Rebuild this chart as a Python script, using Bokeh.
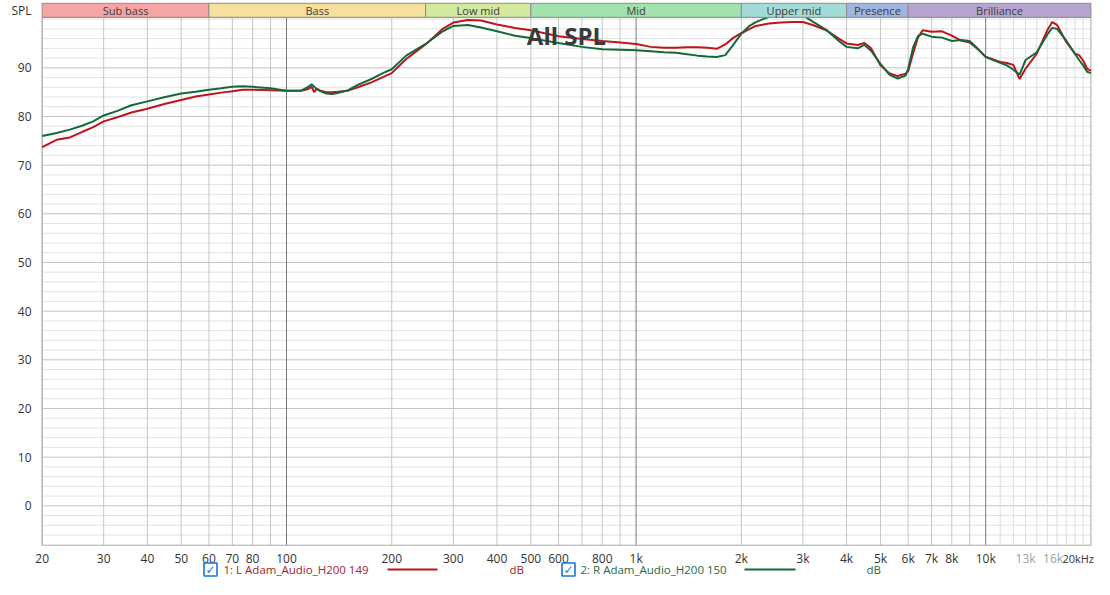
import math
from bokeh.plotting import figure
from bokeh.models import Range1d, FixedTicker, ColumnDataSource
from bokeh.core.properties import value
from bokeh.embed import file_html
from bokeh.resources import INLINE

# ---------------- data ----------------
freq_hz = [20, 22, 24, 26, 28, 30, 33, 36, 40, 45, 50, 55, 60, 65, 70, 75, 80, 90,
           100, 110, 115, 118, 120, 122, 125, 130, 135, 140, 150, 160, 175, 190,
           200, 220, 250, 280, 300, 330, 360, 400, 450, 500, 600, 700, 800, 900,
           1000, 1100, 1200, 1300, 1400, 1500, 1600, 1700, 1800, 1900, 2000, 2100,
           2200, 2400, 2600, 2800, 3000, 3200, 3500, 3800, 4000, 4300, 4500, 4700,
           5000, 5300, 5600, 5900, 6000, 6200, 6400, 6600, 7000, 7500, 8000, 8500,
           9000, 9500, 10000, 11000, 11500, 12000, 12500, 13000, 14000, 15000,
           15500, 16000, 17000, 18000, 18500, 19000, 19500, 20000]

left_db = [73.7, 75.2, 75.7, 76.8, 77.8, 79.0, 79.9, 80.8, 81.6, 82.6, 83.4, 84.1, 84.5,
           84.9, 85.2, 85.5, 85.5, 85.4,
           85.3, 85.3, 85.6, 86.1, 85.0, 85.7, 85.3, 85.0, 85.0, 85.1, 85.3, 86.0, 87.0, 88.2,
           88.9, 91.8, 94.8, 98.0, 99.3, 99.8, 99.7, 98.9, 98.2, 97.7, 96.5, 95.9, 95.5, 95.2,
           94.9, 94.3, 94.1, 94.1, 94.2, 94.2, 94.1, 93.9, 94.8, 96.2, 97.1, 97.9,
           98.6, 99.1, 99.3, 99.4, 99.4, 98.8, 97.7, 96.0, 95.0, 94.7, 95.1, 94.0,
           90.5, 88.9, 88.3, 88.8, 89.3, 93.0, 96.2, 97.7, 97.4, 97.5, 96.6, 95.6,
           95.2, 93.8, 92.3, 91.2, 91.0, 90.6, 87.7, 89.8, 92.9, 97.7,
           99.4, 98.8, 95.3, 92.9, 92.6, 91.5, 89.8, 89.4]

right_db = [76.0, 76.6, 77.3, 78.1, 79.0, 80.2, 81.2, 82.3, 83.1, 84.0, 84.7, 85.1, 85.5,
            85.8, 86.1, 86.2, 86.1, 85.8,
            85.3, 85.3, 86.0, 86.6, 86.1, 85.6, 85.2, 84.7, 84.6, 84.8, 85.4, 86.5, 87.7, 89.0,
            89.7, 92.5, 94.9, 97.5, 98.6, 98.8, 98.3, 97.5, 96.6, 96.1, 95.1, 94.3, 93.8, 93.7,
            93.6, 93.4, 93.2, 93.1, 92.8, 92.5, 92.3, 92.2, 92.6, 94.8, 97.0, 98.5,
            99.4, 100.5, 101.2, 101.5, 100.8, 99.5, 97.8, 95.5, 94.3, 94.0, 94.7, 93.5,
            90.8, 88.6, 87.8, 88.4, 89.8, 94.2, 96.5, 97.0, 96.4, 96.2, 95.5, 95.7,
            95.5, 93.9, 92.2, 91.0, 90.5, 89.6, 88.6, 91.6, 93.2, 96.8,
            98.2, 98.0, 95.6, 92.9, 91.6, 90.5, 89.2, 88.9]

band_names = ["Sub bass", "Bass", "Low mid", "Mid", "Upper mid", "Presence", "Brilliance"]
band_lo = [20, 60, 250, 500, 2000, 4000, 6000]
band_hi = [60, 250, 500, 2000, 4000, 6000, 20000]
band_colors = ["#f6a4a4", "#f7df9e", "#d3e99e", "#a2e2ac", "#a3dcd6", "#a2b5df", "#b7a4cf"]

x_tick_values = [20, 30, 40, 50, 60, 70, 80, 100, 200, 300, 400, 500, 600, 800,
                 1000, 2000, 3000, 4000, 5000, 6000, 7000, 8000, 10000]
x_tick_labels = ["20", "30", "40", "50", "60", "70", "80", "100", "200", "300", "400",
                 "500", "600", "800", "1k", "2k", "3k", "4k", "5k", "6k", "7k", "8k", "10k"]
x_faint_values = [13000, 16000]
x_faint_labels = ["13k", "16k"]
x_last_label = "20kHz"
y_tick_values = [0, 10, 20, 30, 40, 50, 60, 70, 80, 90]
y_tick_labels = ["0", "10", "20", "30", "40", "50", "60", "70", "80", "90"]
y_title = "SPL"

grid_x_regular = [20, 30, 40, 50, 60, 70, 80, 90, 200, 300, 400, 500, 600, 700, 800, 900,
                  2000, 3000, 4000, 5000, 6000, 7000, 8000, 9000]
grid_x_dark = [100, 1000, 10000]
grid_x_light = [11000, 12000, 13000, 14000, 15000, 16000, 17000, 18000, 19000]
grid_y_minor = [v for v in range(-6, 101, 2) if v % 10 != 0] + [100]
grid_y_major = [0, 10, 20, 30, 40, 50, 60, 70, 80, 90]

series_names = ["1: L Adam_Audio_H200 149", "2: R Adam_Audio_H200 150"]
series_colors = ["#c0141a", "#14693a"]
legend_text_colors = ["#a52226", "#1f6a3e"]

# ---------------- layout helpers (picture pixel -> data) ----------------
def fx(px):
    return 10 ** (2 + (px - 286.0) / 349.6)

def fy(py):
    return 90 - (py - 67.3) / 4.8667

FONT = "Open Sans"
W, H = 1094, 579
FL, FR = 30, 1094          # frame left / right in pixels
PLOT_BOTTOM = -8.1
PLOT_TOP = fy(16.8)
BAND_TOP = fy(2.8)

p = figure(width=W, height=H, x_axis_type="log",
           x_range=Range1d(fx(FL), fx(FR)), y_range=Range1d(fy(H), fy(0)),
           output_backend="svg", toolbar_location=None,
           min_border_left=FL, min_border_right=W - FR, min_border_top=0, min_border_bottom=0)
p.background_fill_color = "white"
p.border_fill_color = "white"
p.outline_line_color = None
p.xgrid.visible = False
p.ygrid.visible = False
p.xaxis.visible = False

# y axis (real axis, left)
ya = p.yaxis[0]
spl_tick = round(fy(9.8), 2)
ya.ticker = FixedTicker(ticks=y_tick_values + [spl_tick])
overrides = {v: s for v, s in zip(y_tick_values, y_tick_labels)}
overrides[spl_tick] = y_title
ya.major_label_overrides = overrides
ya.axis_line_color = None
ya.major_tick_line_color = None
ya.minor_tick_line_color = None
ya.major_label_text_font = FONT
ya.major_label_text_font_size = "12px"
ya.major_label_text_color = "#333333"
ya.major_label_standoff = FL - 37

# grid lines (limited to plot box)
def vgrid(xs, color):
    p.segment(x0=xs, y0=[PLOT_BOTTOM] * len(xs), x1=xs, y1=[PLOT_TOP] * len(xs),
              line_color=color, line_width=1)

def hgrid(ys, color):
    p.segment(x0=[20] * len(ys), y0=ys, x1=[20000] * len(ys), y1=ys,
              line_color=color, line_width=1)

hgrid(grid_y_minor, "#e3e3e3")
hgrid(grid_y_major, "#c3c3c3")
vgrid(grid_x_light, "#dcdcdc")
vgrid(grid_x_regular, "#c6c6c6")
vgrid(grid_x_dark, "#7c7c7c")

# plot box
p.quad(left=[20], right=[20000], bottom=[PLOT_BOTTOM], top=[PLOT_TOP],
       fill_color=None, line_color="#a8a8a8", line_width=1)

# curves
src = ColumnDataSource(dict(f=freq_hz, l=left_db, r=right_db))
p.line("f", "l", source=src, line_color=series_colors[0], line_width=2)
p.line("f", "r", source=src, line_color=series_colors[1], line_width=2)

# band strip
bsrc = ColumnDataSource(dict(lo=band_lo, hi=band_hi, c=band_colors, name=band_names,
                             mid=[math.sqrt(a * b) for a, b in zip(band_lo, band_hi)]))
p.quad(left="lo", right="hi", bottom=PLOT_TOP, top=BAND_TOP, fill_color="c",
       line_color="#8e8e8e", line_width=1, source=bsrc)
p.text(x="mid", y=fy(9.8), text="name", source=bsrc, text_align="center",
       text_baseline="middle", text_font=value(FONT), text_font_size="11px",
       text_color="#3c3c3c")

# x tick labels
XL_Y = fy(557.5)
p.text(x=x_tick_values, y=[XL_Y] * len(x_tick_values), text=x_tick_labels,
       text_align="center", text_baseline="middle", text_font=value(FONT),
       text_font_size="12px", text_color="#333333")
p.text(x=x_faint_values, y=[XL_Y] * len(x_faint_values), text=x_faint_labels,
       text_align="center", text_baseline="middle", text_font=value(FONT),
       text_font_size="12px", text_color="#a0a0a0", x_offset=[0, -4])
p.text(x=[fx(1093.5)], y=[XL_Y], text=[x_last_label], text_align="right",
       text_baseline="middle", text_font=value(FONT), text_font_size="11px",
       text_color="#333333")

# title in plot
p.text(x=[fx(566)], y=[fy(34.5)], text=["All SPL"], text_align="center",
       text_baseline="middle", text_font=value(FONT), text_font_size="24px",
       text_font_style="bold", text_color="#3a3a3a")

# legend row
LY = fy(569)
legend_pos = [(210, 223, 387, 437, 509), (568, 580, 744, 795, 866)]
for i, (cb, tx, l0, l1, db) in enumerate(legend_pos):
    p.scatter(x=[fx(cb)], y=[LY], marker="square", size=13, fill_color="white",
              line_color="#1a73d9", line_width=1.6)
    p.text(x=[fx(cb)], y=[LY], text=["\u2713"], text_align="center", text_baseline="middle",
           text_font=value("DejaVu Sans"), text_font_size="12px", text_font_style="bold",
           text_color="#1a73d9")
    p.text(x=[fx(tx)], y=[LY], text=[series_names[i]], text_align="left",
           text_baseline="middle", text_font=value(FONT), text_font_size="11.5px",
           text_color=legend_text_colors[i])
    p.segment(x0=[fx(l0)], y0=[LY], x1=[fx(l1)], y1=[LY],
              line_color=series_colors[i], line_width=2)
    p.text(x=[fx(db)], y=[LY], text=["dB"], text_align="left",
           text_baseline="middle", text_font=value(FONT), text_font_size="11.5px",
           text_color=legend_text_colors[i])

open("out.html", "w").write(file_html(p, INLINE))
